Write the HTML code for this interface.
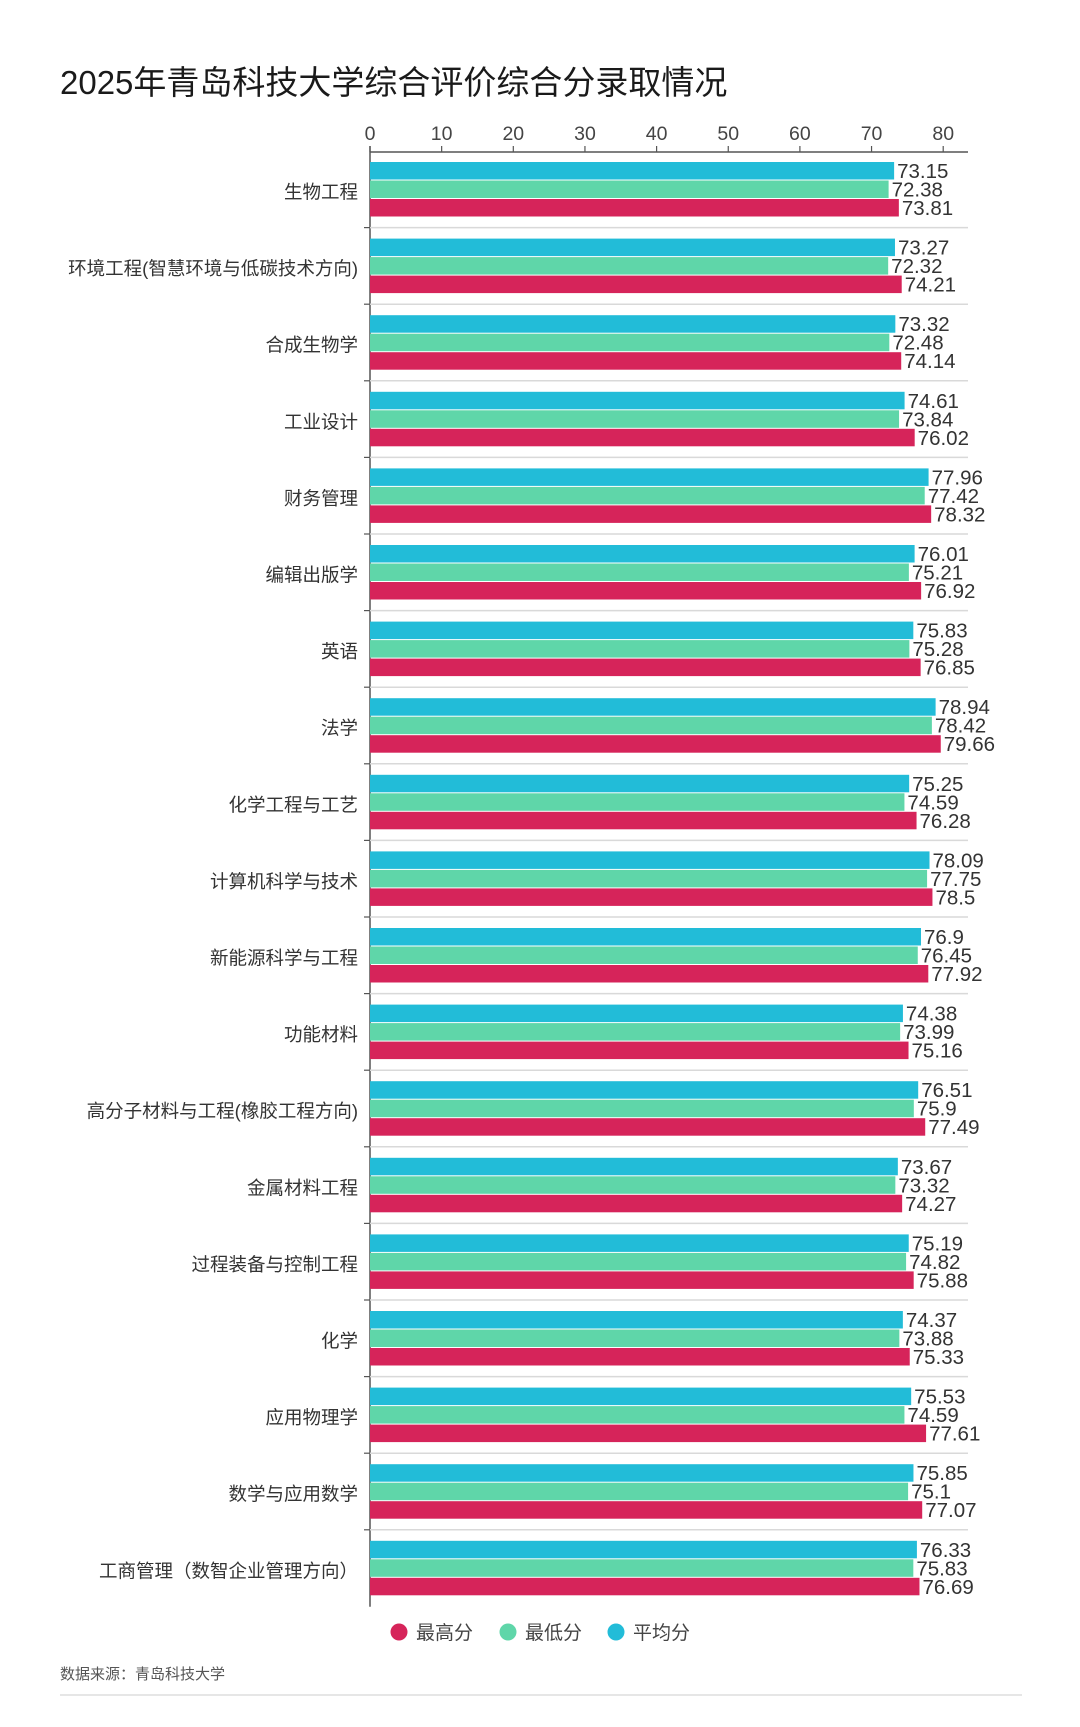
<!DOCTYPE html>
<html><head><meta charset="utf-8">
<style>
html,body{margin:0;padding:0;background:#fff;}
body{width:1080px;height:1722px;overflow:hidden;font-family:"Liberation Sans","Noto Sans CJK SC",sans-serif;}
svg text{font-family:"Liberation Sans","Noto Sans CJK SC",sans-serif;}
</style></head>
<body>
<svg id="chart" width="1080" height="1722" xmlns="http://www.w3.org/2000/svg">
<text x="60" y="94" font-size="33" fill="#1a1a1a">2025年青岛科技大学综合评价综合分录取情况</text>
<g id="plot"></g>
<g>
<g><circle cx="399" cy="1632" r="8.5" fill="#d6245a"/><text x="416" y="1639" font-size="19" fill="#444">最高分</text></g>
<g><circle cx="508" cy="1632" r="8.5" fill="#5fd6a9"/><text x="525" y="1639" font-size="19" fill="#444">最低分</text></g>
<g><circle cx="616" cy="1632" r="8.5" fill="#22bcd8"/><text x="633" y="1639" font-size="19" fill="#444">平均分</text></g>
</g>
<text x="60" y="1679" font-size="15" fill="#555">数据来源：青岛科技大学</text>
<line x1="60" y1="1695" x2="1022" y2="1695" stroke="#ddd" stroke-width="1.5"/>
</svg>
<script>
const categories=["生物工程","环境工程(智慧环境与低碳技术方向)","合成生物学","工业设计","财务管理","编辑出版学","英语","法学","化学工程与工艺","计算机科学与技术","新能源科学与工程","功能材料","高分子材料与工程(橡胶工程方向)","金属材料工程","过程装备与控制工程","化学","应用物理学","数学与应用数学","工商管理（数智企业管理方向）"];
const avgScores=[73.15,73.27,73.32,74.61,77.96,76.01,75.83,78.94,75.25,78.09,76.9,74.38,76.51,73.67,75.19,74.37,75.53,75.85,76.33];
const minScores=[72.38,72.32,72.48,73.84,77.42,75.21,75.28,78.42,74.59,77.75,76.45,73.99,75.9,73.32,74.82,73.88,74.59,75.1,75.83];
const maxScores=[73.81,74.21,74.14,76.02,78.32,76.92,76.85,79.66,76.28,78.5,77.92,75.16,77.49,74.27,75.88,75.33,77.61,77.07,76.69];
const tickValues=[0,10,20,30,40,50,60,70,80];

const NS="http://www.w3.org/2000/svg";
const plot=document.getElementById('plot');
const x0=370, xScale=v=>x0+v*7.165;
const rowY=i=>192+i*76.6;
function mk(tag,attrs,parent){const e=document.createElementNS(NS,tag);for(const k in attrs)e.setAttribute(k,attrs[k]);(parent||plot).appendChild(e);return e;}
const axisTop=152, axisBottom=rowY(categories.length-1)+36;
let ax=mk('line',{x1:x0,y1:axisTop,x2:968,y2:axisTop,stroke:'#555','stroke-width':1.5});


let ay=mk('line',{x1:x0,y1:axisTop-6,x2:x0,y2:axisBottom,stroke:'#555','stroke-width':1.5});


tickValues.forEach(v=>{
  const t=mk('line',{x1:xScale(v),y1:axisTop-6,x2:xScale(v),y2:axisTop,stroke:'#555','stroke-width':1.2});
  
  
  const l=mk('text',{x:xScale(v),y:140,'font-size':19.5,fill:'#444','text-anchor':'middle'});
  
  
  l.textContent=v;
});
const series=[{vals:avgScores,color:'#22bcd8',off:-30,name:'avg'},{vals:minScores,color:'#5fd6a9',off:-11.5,name:'min'},{vals:maxScores,color:'#d6245a',off:7,name:'max'}];
categories.forEach((c,i)=>{
  const cy=rowY(i);
  if(i>0){
    const s=mk('line',{x1:x0,y1:cy-41,x2:968,y2:cy-41,stroke:'#d9d9d9','stroke-width':1.5});
    
    
    const tk=mk('line',{x1:x0-6,y1:cy-41,x2:x0,y2:cy-41,stroke:'#555','stroke-width':1.2});
    
    
  }
  const lab=mk('text',{x:358,y:cy+6.5,'font-size':18.5,fill:'#333','text-anchor':'end'});
  
  
  lab.textContent=c;
  series.forEach(s=>{
    const v=s.vals[i];
    const r=mk('rect',{x:x0,y:cy+s.off,width:xScale(v)-x0,height:17.5,fill:s.color});
    
    
    const t=mk('text',{x:xScale(v)+3,y:cy+s.off+16,'font-size':20.5,fill:'#333'});
    
    
    t.textContent=v;
  });
});
</script>
</body></html>
